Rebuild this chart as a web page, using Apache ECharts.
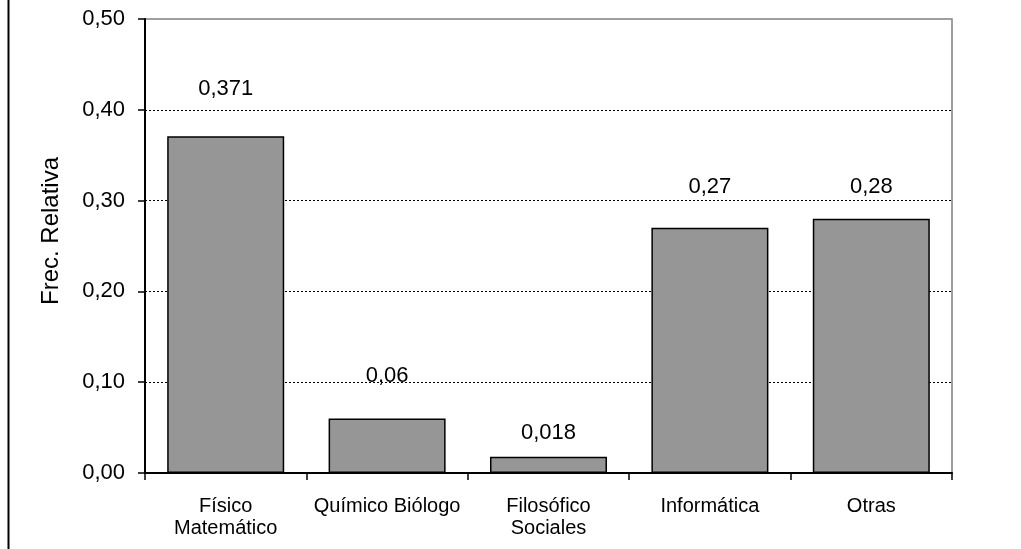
<!DOCTYPE html>
<html>
<head>
<meta charset="utf-8">
<script src="https://cdn.jsdelivr.net/npm/echarts@6/dist/echarts.min.js"></script>
<style>html,body{margin:0;padding:0;background:#fff}#c{width:1021px;height:549px}</style>
</head>
<body>
<div id="c"></div>
<script>
const categories = ['Físico\nMatemático', 'Químico Biólogo', 'Filosófico\nSociales', 'Informática', 'Otras'];
const values = [0.371, 0.06, 0.018, 0.27, 0.28];
const valueLabels = ['0,371', '0,06', '0,018', '0,27', '0,28'];
const yTicks = [0, 0.1, 0.2, 0.3, 0.4, 0.5];
const yTitle = 'Frec. Relativa';
// styling only: gap between bar top and its label (as placed in the original)
const labelGaps = [36, 32, 13, 30, 21];

const font = 'Liberation Sans, Arial, sans-serif';
const chart = echarts.init(document.getElementById('c'), null, {renderer: 'canvas'});
chart.setOption({
  animation: false,
  backgroundColor: '#fff',
  grid: {left: 145, right: 69, top: 19, bottom: 76, show: true, borderColor: '#808080', borderWidth: 1.5, backgroundColor: '#fff'},
  graphic: [
    {type: 'line', shape: {x1: 8.5, y1: 0, x2: 8.5, y2: 549}, style: {stroke: '#000', lineWidth: 2}},
    {type: 'text', x: 51, y: 231, rotation: Math.PI / 2,
      style: {text: yTitle, fill: '#000', font: '24px ' + font, textAlign: 'center', textVerticalAlign: 'middle'}}
  ],
  xAxis: {
    type: 'category', data: categories,
    axisLine: {lineStyle: {color: '#000', width: 2}},
    axisTick: {show: true, length: 7, lineStyle: {color: '#000', width: 1.5}},
    axisLabel: {color: '#000', fontSize: 20, fontFamily: font, lineHeight: 22, margin: 22, interval: 0}
  },
  yAxis: {
    type: 'value', min: yTicks[0], max: yTicks[yTicks.length - 1], interval: 0.1,
    axisLine: {show: true, lineStyle: {color: '#000', width: 2}},
    axisTick: {show: true, length: 7, lineStyle: {color: '#000', width: 1.5}},
    axisLabel: {color: '#000', fontSize: 22, fontFamily: font, margin: 20,
      formatter: v => v.toFixed(2).replace('.', ',')},
    splitLine: {show: true, lineStyle: {color: ['transparent', '#000', '#000', '#000', '#000', 'transparent'], type: [2, 2], width: 1}}
  },
  series: [{
    type: 'bar', barWidth: '72.5%',
    itemStyle: {color: '#969696', borderColor: '#000', borderWidth: 1.5},
    data: values.map((v, i) => ({
      value: v,
      label: {show: true, position: 'top', distance: labelGaps[i], formatter: valueLabels[i],
        color: '#000', fontSize: 22, fontFamily: font}
    }))
  }]
});
</script>
</body>
</html>
